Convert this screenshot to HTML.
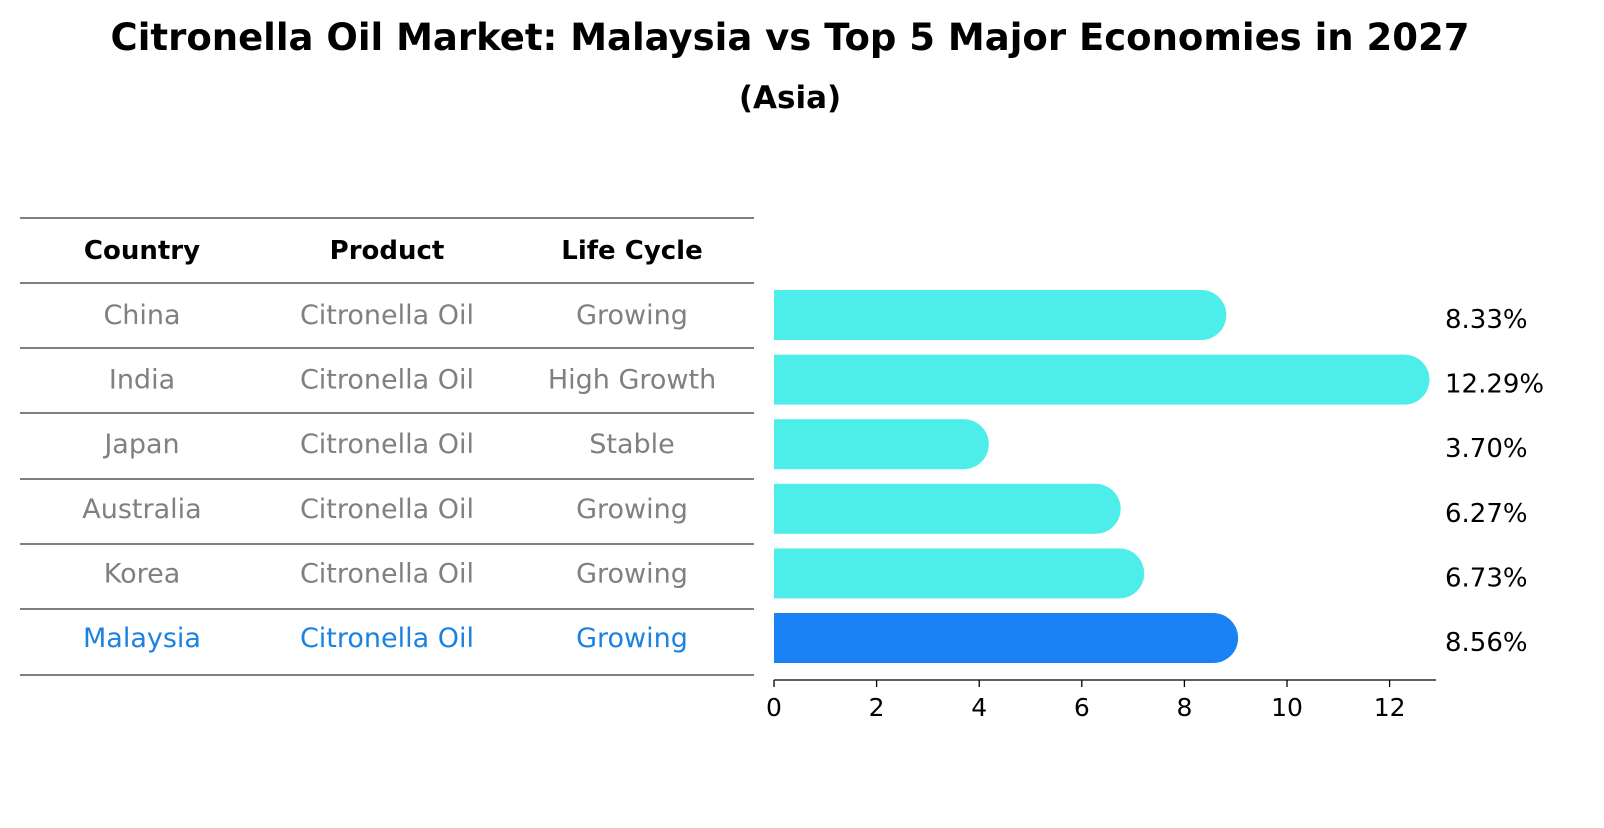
<!DOCTYPE html>
<html><head><meta charset="utf-8"><style>
body{margin:0;background:#fff;font-family:"Liberation Sans","DejaVu Sans",sans-serif;}
svg text{font-family:"DejaVu Sans","Liberation Sans",sans-serif;}
</style></head><body>
<svg id="chart" width="1604" height="823" viewBox="0 0 1604 823" xmlns="http://www.w3.org/2000/svg">
<text x="790" y="50" text-anchor="middle" font-size="37" font-weight="bold">Citronella Oil Market: Malaysia vs Top 5 Major Economies in 2027</text>
<text x="790" y="108" text-anchor="middle" font-size="31" font-weight="bold">(Asia)</text>
<g id="table"></g>
<g id="bars"></g>
<g id="axis"></g>
</svg>
<script>
const countries=["China","India","Japan","Australia","Korea","Malaysia"];
const products=["Citronella Oil","Citronella Oil","Citronella Oil","Citronella Oil","Citronella Oil","Citronella Oil"];
const lifeCycles=["Growing","High Growth","Stable","Growing","Growing","Growing"];
const growth=[8.33,12.29,3.70,6.27,6.73,8.56];
const ticks=[0,2,4,6,8,10,12];
const NS="http://www.w3.org/2000/svg";
function mk(t,a,p,txt){const e=document.createElementNS(NS,t);for(const k in a)e.setAttribute(k,a[k]);if(txt!==undefined)e.textContent=txt;p.appendChild(e);return e;}
const x=v=>774+v*51.3;
const rowY=i=>315+i*64.6;
const table=document.getElementById('table'),bars=document.getElementById('bars'),axis=document.getElementById('axis');
const lines=[218,283,348,413,479,544,609,675];
lines.forEach((y,i)=>{const l=mk('line',{x1:20,x2:754,y1:y,y2:y,stroke:'#000','stroke-width':1},table);
});
const cx=[142,387,632];
["Country","Product","Life Cycle"].forEach((h,j)=>{const t=mk('text',{x:cx[j],y:259,'text-anchor':'middle','font-size':26,'font-weight':'bold'},table,h);
});
countries.forEach((c,i)=>{
 const col=i===countries.length-1?'#1a82e2':'#808080';
 [c,products[i],lifeCycles[i]].forEach((v,j)=>{const t=mk('text',{x:cx[j],y:rowY(i)+9,'text-anchor':'middle','font-size':27,fill:col},table,v);
 });
 const hl=i===countries.length-1;
 const fill=hl?'#1a82f5':'#4deeea';
 const y0=rowY(i)-25;
 const r=mk('rect',{x:x(0),y:y0,width:x(growth[i])-x(0),height:50,fill:fill},bars);
 
 const cap=mk('circle',{cx:x(growth[i]),cy:rowY(i),r:25,fill:fill},bars);
 
 const lab=mk('text',{x:1445,y:rowY(i)+13,'font-size':26},bars,growth[i].toFixed(2)+'%');
 
});
const al=mk('line',{x1:774,x2:1436,y1:680,y2:680,stroke:'#000','stroke-width':1.3},axis);

ticks.forEach(t=>{const tk=mk('line',{x1:x(t),x2:x(t),y1:680,y2:687,stroke:'#000','stroke-width':1.3},axis);

const tl=mk('text',{x:x(t),y:716,'text-anchor':'middle','font-size':25},axis,t);
});
</script>
</body></html>
